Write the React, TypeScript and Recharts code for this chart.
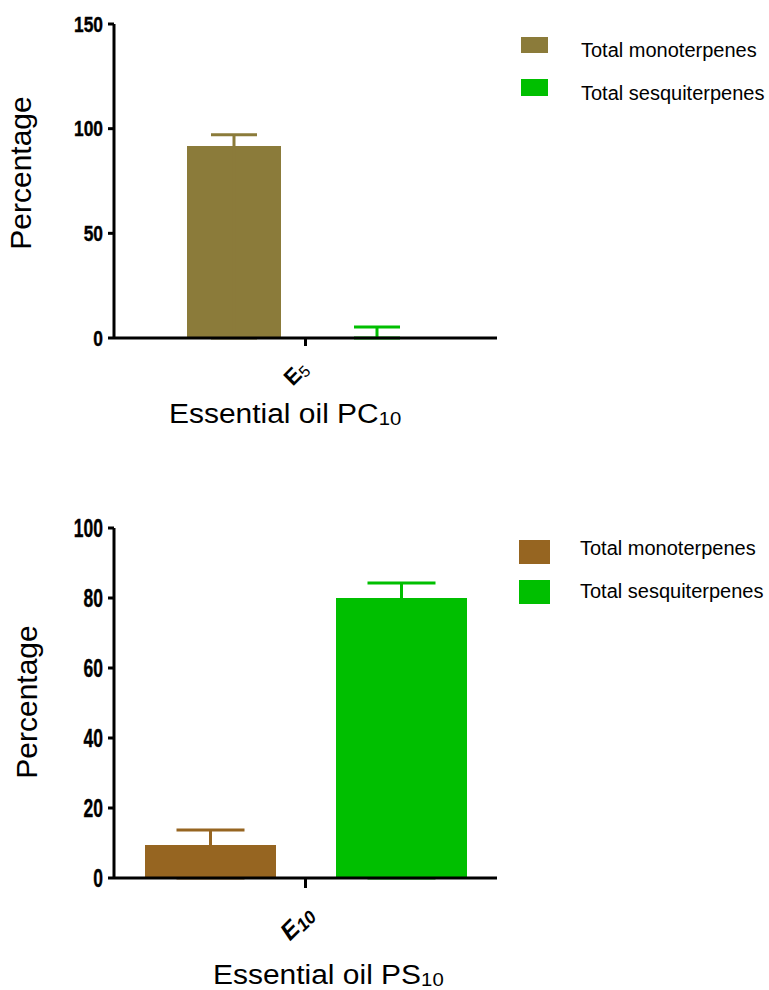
import React from "react";
import { BarChart, Bar, XAxis, YAxis, ErrorBar, Legend, Label } from "recharts";

// ---- Data: top chart (Essential oil PC10)
const pcCategories = ["E5"];
const pcMono = [91.7];
const pcMonoErr = [5.4];
const pcSesqui = [0.3];
const pcSesquiErr = [4.9];
const pcTicks = [0, 50, 100, 150];

// ---- Data: bottom chart (Essential oil PS10)
const psCategories = ["E10"];
const psMono = [9.4];
const psMonoErr = [4.3];
const psSesqui = [80.0];
const psSesquiErr = [4.3];
const psTicks = [0, 20, 40, 60, 80, 100];

const seriesNames = ["Total monoterpenes", "Total sesquiterpenes"];

// error bars are one-sided (upward); the lower whisker runs down to the baseline, hidden inside the bar
const pcData = pcCategories.map((c, i) => ({
  name: c,
  mono: pcMono[i],
  sesqui: pcSesqui[i],
  monoErr: [pcMono[i], pcMonoErr[i]],
  sesquiErr: [pcSesqui[i], pcSesquiErr[i]],
}));
const psData = psCategories.map((c, i) => ({
  name: c,
  mono: psMono[i],
  sesqui: psSesqui[i],
  monoErr: [psMono[i], psMonoErr[i]],
  sesquiErr: [psSesqui[i], psSesquiErr[i]],
}));

const OLIVE = "#8B7B3A";
const BROWN = "#966521";
const GREEN = "#00BF00";
const SANS = "'Liberation Sans', Arial, sans-serif";

const makeXTick = (italic: boolean, fontSize: number, subSize: number, dx: number, dy: number) => (props: any) => {
  const { x, y, payload } = props;
  const label: string = String(payload.value);
  const main = label.slice(0, 1);
  const sub = label.slice(1);
  return (
    <g transform={`translate(${x + dx},${y + dy})`}>
      <text
        transform="rotate(-45)"
        textAnchor="end"
        fontFamily={SANS}
        fontWeight="bold"
        fontStyle={italic ? "italic" : "normal"}
        fontSize={fontSize}
        fill="#000"
      >
        {main}
        <tspan fontSize={subSize} dy={3} fontWeight={italic ? "bold" : "normal"}>
          {sub}
        </tspan>
      </text>
    </g>
  );
};

const makeYTick = (fontSize: number, sx: number) => (props: any) => {
  const { x, y, payload } = props;
  return (
    <text
      transform={`translate(${x},${y}) scale(${sx},1)`}
      textAnchor="end"
      dy="0.355em"
      fontFamily={SANS}
      fontWeight="bold"
      fontSize={fontSize}
      fill="#000"
      stroke="#000"
      strokeWidth={0.4}
    >
      {payload.value}
    </text>
  );
};

const makeLegend = (rects: { y: number; h: number }[], texts: number[], rx: number, rw: number, tx: number) => (props: any) => {
  const payload = props.payload || [];
  return (
    <svg width={269} height={130} style={{ display: "block" }}>
      {payload.map((p: any, i: number) => (
        <g key={i}>
          <rect x={rx} y={rects[i].y} width={rw} height={rects[i].h} fill={p.color} />
          <text x={tx} y={texts[i]} fontFamily={SANS} fontSize={20} fill="#000">
            {p.value}
          </text>
        </g>
      ))}
    </svg>
  );
};

const yTitle = (cx: number, cy: number) => () => (
  <text
    x={cx}
    y={cy}
    transform={`rotate(-90, ${cx}, ${cy})`}
    textAnchor="middle"
    fontFamily={SANS}
    fontSize={30}
    fill="#000"
  >
    Percentage
  </text>
);

const xTitle = (x: number, y: number, main: string, sub: string) => () => (
  <text transform={`translate(${x},${y}) scale(1.07,1)`} fontFamily={SANS} fontSize={28} fill="#000">
    {main}
    <tspan fontSize={19} dy={2}>
      {sub}
    </tspan>
  </text>
);

const axisLine = { stroke: "#000", strokeWidth: 3 };

export default function App() {
  return (
    <div style={{ position: "absolute", left: 0, top: 0, width: 769, height: 990, background: "#fff" }}>
      <BarChart
        width={769}
        height={495}
        data={pcData}
        margin={{ top: 24, right: 272, left: 0, bottom: 0 }}
        barSize={94}
        barGap={49}
      >
        <Bar dataKey="mono" name={seriesNames[0]} fill={OLIVE} isAnimationActive={false}>
          <ErrorBar dataKey="monoErr" width={23} strokeWidth={3} stroke={OLIVE} direction="y" />
        </Bar>
        <Bar dataKey="sesqui" name={seriesNames[1]} fill={GREEN} isAnimationActive={false}>
          <ErrorBar dataKey="sesquiErr" width={23} strokeWidth={3} stroke={GREEN} direction="y" />
        </Bar>
        <XAxis
          dataKey="name"
          height={157}
          tickSize={8}
          tickMargin={0}
          axisLine={axisLine}
          tickLine={axisLine}
          tick={makeXTick(false, 22, 16, 4, 24)}
          interval={0}
        >
          <Label content={xTitle(169, 423, "Essential oil PC", "10")} />
        </XAxis>
        <YAxis
          width={114}
          domain={[0, 150]}
          ticks={pcTicks}
          tickSize={6}
          tickMargin={5}
          axisLine={axisLine}
          tickLine={axisLine}
          tick={makeYTick(22, 0.79)}
        >
          <Label content={yTitle(31, 173)} />
        </YAxis>
        <Legend
          layout="vertical"
          align="center"
          verticalAlign="middle"
          wrapperStyle={{ left: 500, top: 0, width: 269, height: 130 }}
          content={makeLegend([{ y: 37, h: 16 }, { y: 79, h: 17 }], [57, 100], 21, 27, 81)}
        />
      </BarChart>
      <BarChart
        width={769}
        height={495}
        data={psData}
        margin={{ top: 33, right: 272, left: 0, bottom: 0 }}
        barSize={131}
        barGap={60}
      >
        <Bar dataKey="mono" name={seriesNames[0]} fill={BROWN} isAnimationActive={false}>
          <ErrorBar dataKey="monoErr" width={34} strokeWidth={3} stroke={BROWN} direction="y" />
        </Bar>
        <Bar dataKey="sesqui" name={seriesNames[1]} fill={GREEN} isAnimationActive={false}>
          <ErrorBar dataKey="sesquiErr" width={34} strokeWidth={3} stroke={GREEN} direction="y" />
        </Bar>
        <XAxis
          dataKey="name"
          height={112}
          tickSize={10}
          tickMargin={0}
          axisLine={axisLine}
          tickLine={axisLine}
          tick={makeXTick(true, 24, 18, 10, 28)}
          interval={0}
        >
          <Label content={xTitle(213, 489, "Essential oil PS", "10")} />
        </XAxis>
        <YAxis
          width={114}
          domain={[0, 100]}
          ticks={psTicks}
          tickSize={6}
          tickMargin={5}
          axisLine={axisLine}
          tickLine={axisLine}
          tick={makeYTick(25, 0.7)}
        >
          <Label content={yTitle(37, 207)} />
        </YAxis>
        <Legend
          layout="vertical"
          align="center"
          verticalAlign="middle"
          wrapperStyle={{ left: 500, top: 0, width: 269, height: 130 }}
          content={makeLegend([{ y: 45, h: 24 }, { y: 85, h: 24 }], [60, 103], 19, 31, 80)}
        />
      </BarChart>
    </div>
  );
}
